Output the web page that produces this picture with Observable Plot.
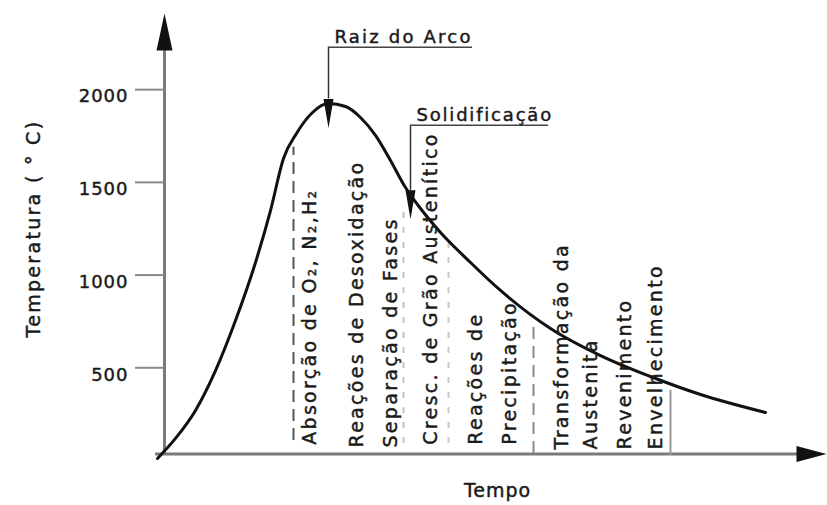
<!DOCTYPE html>
<html><head><meta charset="utf-8">
<script src="https://cdn.jsdelivr.net/npm/d3@7"></script>
<script src="https://cdn.jsdelivr.net/npm/@observablehq/plot@0.6"></script>
<style>
html,body{margin:0;padding:0;background:#fff;}
#chart svg{display:block;}
</style></head><body><div id="chart"></div>
<script>
// Thermal cycle: time (arbitrary units) and temperature (°C)
const tempo = [-7, 11, 31, 51, 71, 91, 106, 119, 132, 148, 164, 181, 196, 211, 226, 241, 256, 276, 306, 336, 386, 436, 486, 536, 601];
const temperatura = [11, 119, 270, 485, 755, 1068, 1348, 1629, 1764, 1877, 1925, 1909, 1850, 1753, 1618, 1472, 1359, 1230, 1068, 917, 712, 566, 453, 356, 259];

const yTicks = [500, 1000, 1500, 2000];

// phase labels written vertically
const phaseLabels = ["Absorção de O₂, N₂,H₂", "Reações de Desoxidação", "Separação de Fases", "Cresc. de Grão Austenítico", "Reações de", "Precipitação", "Transformação da", "Austenita", "Revenimento", "Envelhecimento"];
const phaseTempo = [145, 192, 226, 266, 311, 345, 397, 426, 460, 491];
const phaseBase = [85, 70, 70, 85, 85, 85, 60, 60, 60, 60];

// separator lines
const sepTempo = [129, 239, 284, 369, 506];
const sepTop = [1689, 1365, 1170, 739, 378];
const sepBottom = [108, 92, 92, 38, 27];
const sepColor = ["#555", "#c4c4c4", "#c8c8c8", "#8a8a8a", "#9a9a9a"];
const sepDash = ["12,7", "6,9", "6,9", "12,7", "none"];

// annotations
const annLabels = ["Raiz do Arco", "Solidificação"];
const annTempo = [164, 246];
const annLineT = [2229, 1808];
const annLineEnd = [308, 384];
const annTipT = [1950, 1457];

const seps = sepTempo.map((t, i) => ({t, top: sepTop[i], bottom: sepBottom[i], c: sepColor[i], d: sepDash[i]}));
const phases = phaseLabels.map((s, i) => ({s, t: phaseTempo[i], b: phaseBase[i]}));
const anns = annLabels.map((s, i) => ({s, t: annTempo[i], lt: annLineT[i], end: annLineEnd[i], tip: annTipT[i]}));
const curve = tempo.map((t, i) => ({t, T: temperatura[i]}));

const head = (w) => ({draw(ctx, l) { ctx.moveTo(0, -l); ctx.lineTo(-w, 0); ctx.lineTo(w, 0); ctx.closePath(); }});

const xAxisT = 35;
const FONT = "DejaVu Sans";
const ink = "#1a1a1a";
const heavy = {stroke: ink, strokeWidth: 0.45};

const marks = [
  // axes
  Plot.ruleY([xAxisT], {x1: -9, x2: 640, stroke: "#7a7a7a", strokeWidth: 3}),
  Plot.ruleX([0], {y1: xAxisT, y2: 2300, stroke: "#7a7a7a", strokeWidth: 3}),
  Plot.ruleY(yTicks, {x1: -29, x2: 0, stroke: "#8a8a8a", strokeWidth: 2}),
  Plot.text(yTicks, {x: -36, y: d => d, text: d => String(d), textAnchor: "end", dy: 7, fontSize: 18, fill: ink, ...heavy}),
  // separators
  ...seps.map(s => Plot.ruleX([s], {x: "t", y1: "bottom", y2: "top", stroke: s.c, strokeWidth: 2, strokeDasharray: s.d})),
  // curve
  Plot.line(curve, {x: "t", y: "T", curve: "monotone-x", stroke: "#111", strokeWidth: 3}),
  // phase labels
  Plot.text(phases, {x: "t", y: "b", text: "s", rotate: -90, textAnchor: "start", lineAnchor: "middle", fontSize: 19, fill: ink, ...heavy}),
  // annotation leaders
  Plot.ruleX(anns, {x: "t", y1: "tip", y2: "lt", stroke: "#333", strokeWidth: 1.5}),
  Plot.ruleY(anns, {y: "lt", x1: "t", x2: "end", stroke: "#444", strokeWidth: 1.5}),
  Plot.text(anns, {x: d => d.t + 6, y: "lt", text: "s", textAnchor: "start", dy: -10, fontSize: 18, fill: ink, ...heavy}),
  Plot.vector(anns, {x: "t", y: "tip", length: 29, rotate: 180, anchor: "start", shape: head(5), fill: "#111", stroke: "none"}),
  // axis arrowheads
  Plot.vector([2411], {x: 0, y: d => d, length: 37, rotate: 0, anchor: "end", shape: head(8), fill: "#111", stroke: "none"}),
  Plot.vector([xAxisT], {x: 662, y: d => d, length: 30, rotate: 90, anchor: "end", shape: head(8), fill: "#111", stroke: "none"}),
  // axis titles
  Plot.text(["Temperatura ( ° C)"], {x: -131, y: 1251, text: d => d, rotate: -90, fontSize: 19, fill: ink, ...heavy}),
  Plot.text(["Tempo"], {x: 333, y: -162, text: d => d, fontSize: 19, fill: ink, ...heavy})
];

const chart = Plot.plot({
  width: 827, height: 505,
  marginLeft: 0, marginRight: 0, marginTop: 15, marginBottom: 45,
  x: {domain: [-164, 663], axis: null},
  y: {domain: [0, 2400], axis: null},
  style: {fontFamily: FONT, background: "#fff", color: "#222", overflow: "visible"},
  marks
});
const spacing = {"Tempo": 1, "Raiz do Arco": 2.2, "Solidificação": 1.8};
d3.select(chart).selectAll("text").each(function() {
  const s = this.textContent;
  const fs = +this.parentNode.getAttribute("font-size");
  const ls = s in spacing ? spacing[s] : (fs >= 19 ? 2.3 : 1);
  d3.select(this).style("letter-spacing", ls + "px");
});
document.getElementById("chart").append(chart);
</script></body></html>
